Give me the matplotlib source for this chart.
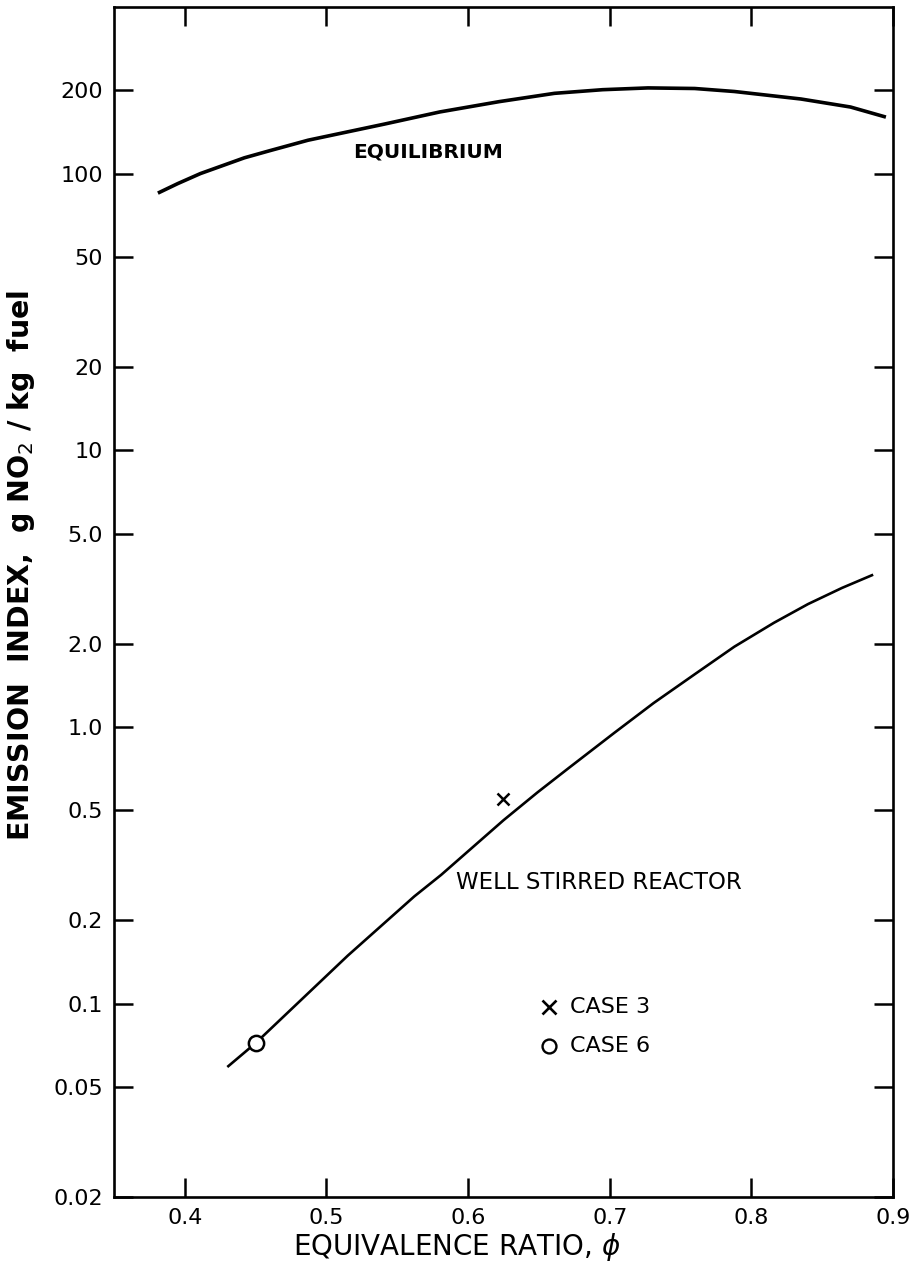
import matplotlib
matplotlib.use("Agg")
import matplotlib.pyplot as plt
from matplotlib.ticker import FixedLocator, FixedFormatter, NullLocator

# Data
eq_phi = [0.381, 0.395, 0.411, 0.442, 0.46, 0.487, 0.541, 0.58, 0.622, 0.661, 0.695,
          0.727, 0.76, 0.788, 0.835, 0.87, 0.895]
eq_ei = [85, 92, 100, 114, 121, 132, 151, 167, 182, 195, 201,
         204, 203, 198, 186, 174, 160]

wsr_phi = [0.43, 0.45, 0.515, 0.562, 0.581, 0.625, 0.649, 0.671, 0.703, 0.731, 0.760,
           0.788, 0.816, 0.840, 0.864, 0.886]
wsr_ei = [0.059, 0.072, 0.149, 0.244, 0.292, 0.46, 0.58, 0.71, 0.95, 1.22, 1.55,
          1.95, 2.38, 2.78, 3.18, 3.55]

case3_phi = [0.625]
case3_ei = [0.547]
case6_phi = [0.450]
case6_ei = [0.072]

y_ticks = [0.02, 0.05, 0.1, 0.2, 0.5, 1.0, 2.0, 5.0, 10, 20, 50, 100, 200]
y_labels = ["0.02", "0.05", "0.1", "0.2", "0.5", "1.0", "2.0", "5.0", "10", "20", "50", "100", "200"]
x_ticks = [0.4, 0.5, 0.6, 0.7, 0.8, 0.9]
x_labels = ["0.4", "0.5", "0.6", "0.7", "0.8", "0.9"]

plt.rcParams['font.family'] = ['DejaVu Sans']

fig = plt.figure(figsize=(9.13, 12.77), dpi=100)
ax = fig.add_axes([114/913, 1-1197/1277, (893-114)/913, (1197-7)/1277])

ax.set_yscale('log')
ax.set_xlim(0.35, 0.9)
ax.set_ylim(0.02, 400)

ax.plot(eq_phi, eq_ei, color='black', lw=2.6, solid_capstyle='butt', solid_joinstyle='round')
ax.plot(wsr_phi, wsr_ei, color='black', lw=1.9, solid_capstyle='butt', solid_joinstyle='round')
ax.plot(case3_phi, case3_ei, linestyle='none', marker='x', ms=9, mew=1.8, color='black')
ax.plot(case6_phi, case6_ei, linestyle='none', marker='o', ms=11, mew=1.8,
        mfc='white', mec='black')

# in-plot legend made of markers and text
ax.plot([0.657], [0.097], linestyle='none', marker='x', ms=10, mew=1.9, color='black')
ax.plot([0.657], [0.070], linestyle='none', marker='o', ms=10, mew=1.7,
        mfc='white', mec='black')
ax.text(0.672, 0.097, "CASE 3", fontsize=16, va='center', ha='left')
ax.text(0.672, 0.070, "CASE 6", fontsize=16, va='center', ha='left')

ax.text(0.519, 120, "EQUILIBRIUM", fontsize=14.5, fontweight='bold', va='center', ha='left')
ax.text(0.5915, 0.274, "WELL STIRRED REACTOR", fontsize=16.5, va='center', ha='left')

ax.yaxis.set_major_locator(FixedLocator(y_ticks))
ax.yaxis.set_major_formatter(FixedFormatter(y_labels))
ax.yaxis.set_minor_locator(NullLocator())
ax.xaxis.set_major_locator(FixedLocator(x_ticks))
ax.xaxis.set_major_formatter(FixedFormatter(x_labels))
ax.xaxis.set_minor_locator(NullLocator())

ax.tick_params(axis='both', which='major', direction='in', length=14, width=1.8,
               top=True, right=True, labelsize=16, pad=8, colors='black')
for s in ax.spines.values():
    s.set_linewidth(1.9)

fig.text(457/913, 1-1247/1277, r"EQUIVALENCE RATIO, $\phi$", fontsize=20,
         ha='center', va='center')
fig.text(21/913, 1-565/1277, r"EMISSION  INDEX,  g NO$_2$ / kg  fuel", fontsize=20.5,
         fontweight='bold', rotation=90, ha='center', va='center')

fig.savefig("out.png", dpi=100, facecolor='white')
